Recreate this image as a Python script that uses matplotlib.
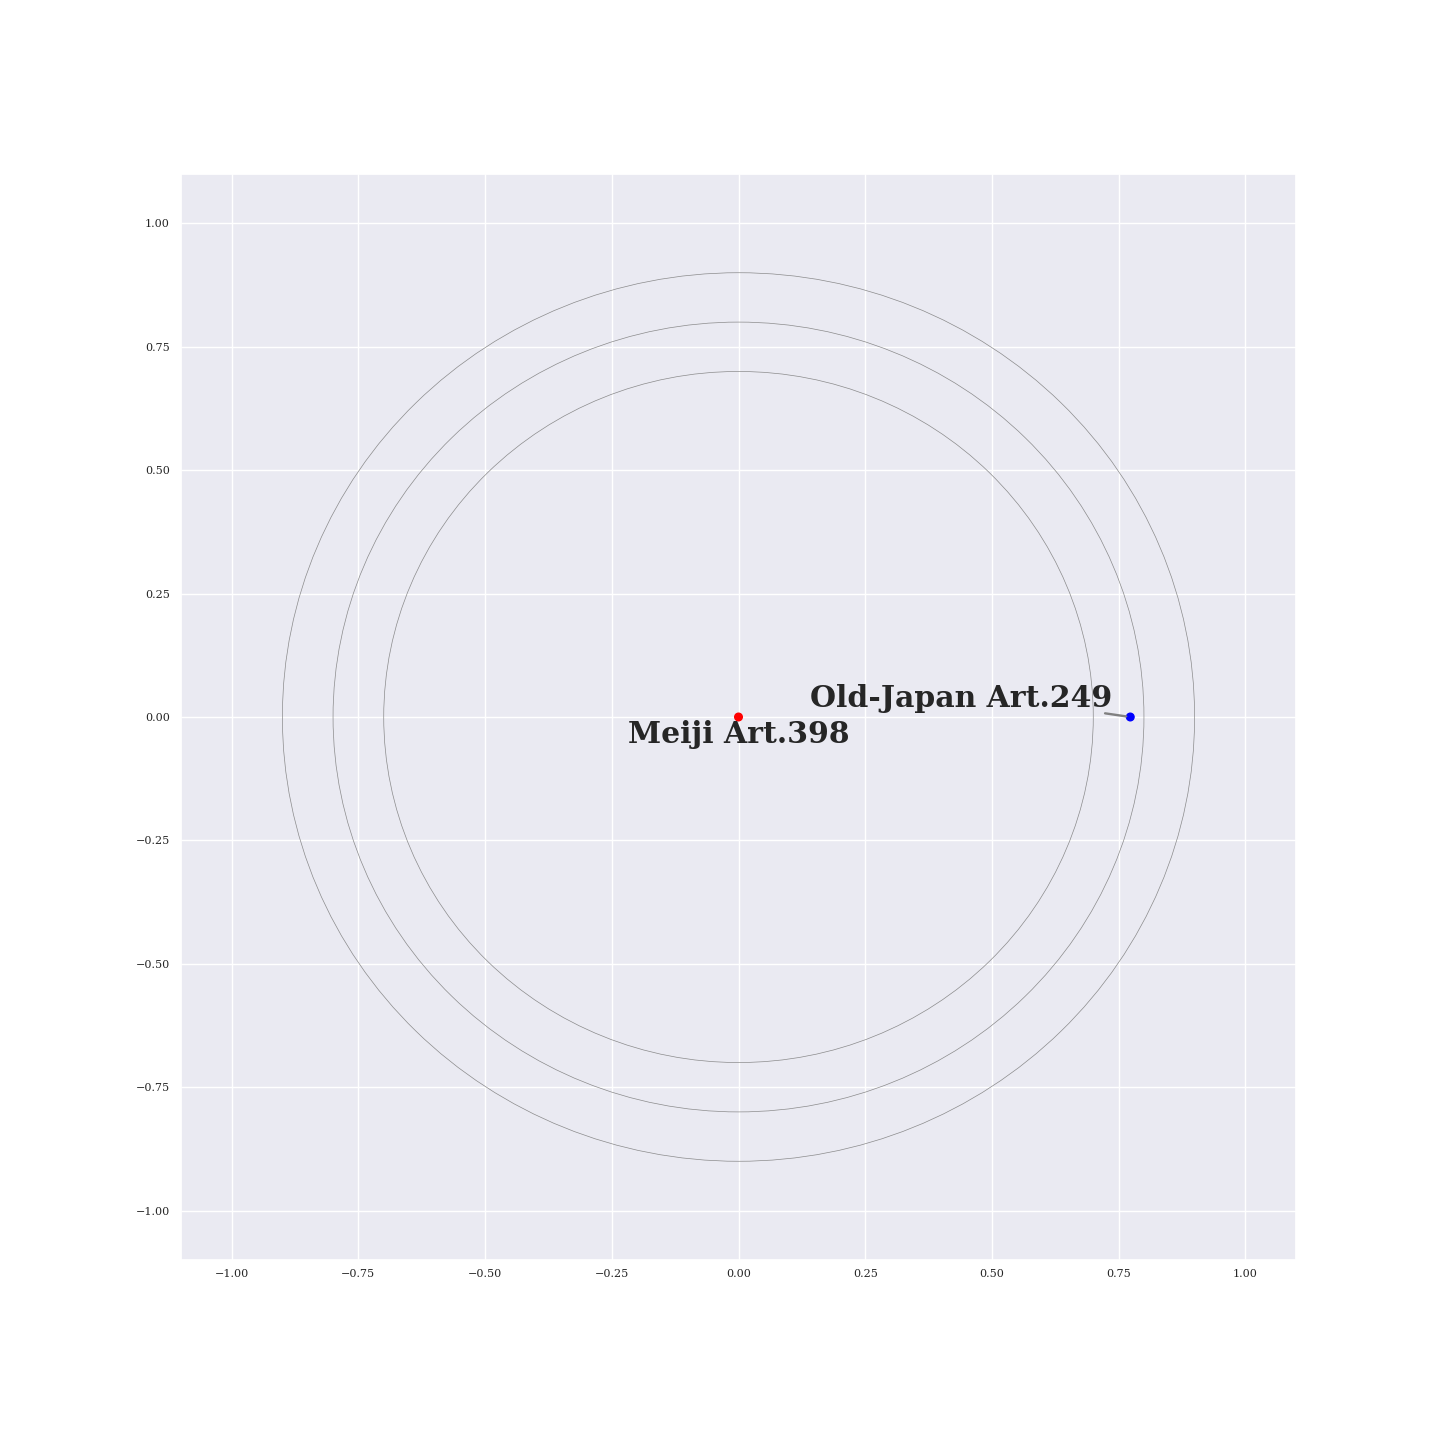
import matplotlib
matplotlib.use("Agg")
import matplotlib.pyplot as plt
import seaborn as sns
from matplotlib.patches import Circle

sns.set_theme(style="darkgrid")
plt.rcParams['font.family'] = ['DejaVu Serif']

node_names = ["Meiji Art.398", "Old-Japan Art.249"]
node_x = [0.0, 0.773]
node_y = [0.0, 0.0]
node_colors = ["red", "blue"]
label_x = [0.0, 0.44]
label_y = [-0.036, 0.038]
ring_radii = [0.7, 0.8, 0.9]

fig = plt.figure(figsize=(14.4, 14.4), dpi=100)
ax = fig.add_axes([181/1440, 180/1440, 1115/1440, 1086/1440])

for r in ring_radii:
    ax.add_patch(Circle((0, 0), r, fill=False, edgecolor="gray", linewidth=0.5, alpha=0.9))

ax.scatter(node_x, node_y, c=node_colors, s=30, zorder=3)

# Meiji label (no connector)
ax.text(label_x[0], label_y[0], node_names[0], ha="center", va="center",
        fontsize=21.5, fontweight="bold", color="#262626", zorder=4)
# Old-Japan label with connector
ax.annotate(node_names[1], xy=(node_x[1], node_y[1]), xytext=(label_x[1], label_y[1]),
            ha="center", va="center", fontsize=21.5, fontweight="bold", color="#262626",
            arrowprops=dict(arrowstyle="-", color="gray", lw=1.7, shrinkA=0, shrinkB=3,
                            patchA=None, relpos=(0.975, -0.02)), zorder=4)

ax.set_xlim(-1.1, 1.1)
ax.set_ylim(-1.1, 1.1)
ticks = [-1.0, -0.75, -0.5, -0.25, 0.0, 0.25, 0.5, 0.75, 1.0]
ax.set_xticks(ticks)
ax.set_yticks(ticks)
ax.tick_params(labelsize=8, length=0)
ax.tick_params(axis="x", pad=6.5)
ax.tick_params(axis="y", pad=8)

fig.savefig("out.png", dpi=100)
